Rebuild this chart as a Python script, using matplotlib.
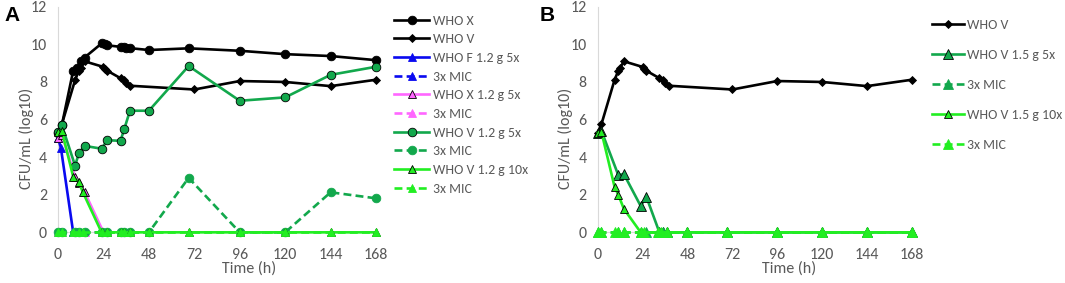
import matplotlib
matplotlib.use("Agg")
from matplotlib import pyplot as plt
from matplotlib import font_manager

names = {f.name for f in font_manager.fontManager.ttflist}
base = "Carlito" if "Carlito" in names else "Lato"
plt.rcParams['font.family'] = [base, 'DejaVu Sans']

#########################################
# panel A data
tx = [0, 2, 8, 10, 12, 14, 23, 25, 26, 33, 35, 36, 38, 48, 69, 96, 120, 144, 168]
who_x = [5.3, 5.7, 8.6, 8.75, 9.1, 9.3, 10.05, 10.0, 9.95, 9.87, 9.85, 9.82, 9.8, 9.7, 9.79, 9.66, 9.48, 9.38, 9.16]

tv = [0, 2, 9, 11, 12, 14, 24, 25, 26, 33, 35, 36, 38, 72, 96, 120, 144, 168]
who_v = [5.3, 5.75, 8.1, 8.6, 8.75, 9.1, 8.8, 8.7, 8.6, 8.2, 8.1, 7.95, 7.8, 7.6, 8.05, 8.0, 7.78, 8.12]

tf = [0, 1.5, 8]
f_5x = [5.0, 4.5, 0]
f_mic = [0, 0, 0]

tp = [0, 2, 9, 11, 14, 24]
x_5x = [5.0, 5.2, 2.95, 2.65, 2.15, 0]
x_mic = [0, 0, 0, 0, 0, 0]

t5 = [0, 2, 9, 11, 14, 23, 26, 33, 35, 38, 48, 69, 96, 120, 144, 168]
v12_5x = [5.35, 5.7, 3.55, 4.2, 4.6, 4.45, 4.9, 4.87, 5.5, 6.47, 6.47, 8.85, 7.0, 7.18, 8.38, 8.81]
v12_5x_mic = [0, 0, 0, 0, 0, 0, 0, 0, 0, 0, 0, 2.9, 0, 0, 2.13, 1.81]

t10 = [0, 2, 8, 11, 13, 23, 26, 33, 35, 38, 48, 69, 96, 120, 144, 168]
v12_10x = [5.35, 5.4, 2.96, 2.66, 2.16, 0, 0, 0, 0, 0, 0, 0, 0, 0, 0, 0]
v12_10x_mic = [0] * 16

# panel B data
tb5 = [0, 2, 11, 14, 23, 26, 33, 35, 37, 48, 69, 96, 120, 144, 168]
v15_5x = [5.3, 5.4, 3.05, 3.1, 1.4, 1.9, 0, 0, 0, 0, 0, 0, 0, 0, 0]
v15_5x_mic = [0] * 15

tb10 = [0, 2, 9, 11, 14, 23, 25, 32, 34, 37, 48, 69, 96, 120, 144, 168]
v15_10x = [5.3, 5.35, 2.43, 2.0, 1.25, 0, 0, 0, 0, 0, 0, 0, 0, 0, 0, 0]
v15_10x_mic = [0] * 16

#########################################
BLUE = "#0A0AF0"
PINK = "#FF66FF"
MID = "#12A84C"
LIME = "#22EE22"
GREY = "#595959"
LW = 1.9


def style(ax):
    ax.set_xlim(0, 168)
    ax.set_ylim(0, 12)
    ax.set_xticks(range(0, 169, 24))
    ax.set_yticks(range(0, 13, 2))
    ax.tick_params(length=0, labelsize=11.5, labelcolor=GREY)
    ax.tick_params(axis='x', pad=11)
    ax.tick_params(axis='y', pad=8)
    for s in ["top", "right"]:
        ax.spines[s].set_visible(False)
    for s in ["left", "bottom"]:
        ax.spines[s].set_color("#D9D9D9")
        ax.spines[s].set_zorder(1)
    ax.set_xlabel("Time (h)", fontsize=11.5, color=GREY)
    ax.set_ylabel("CFU/mL (log10)", fontsize=11.5, color=GREY)


def line(ax, t, y, color, marker, ms, ls="-", mec="k", label=None):
    ax.plot(t, y, ls, color=color, lw=LW, marker=marker, ms=ms, mfc=color,
            mec=mec, mew=0.6, label=label, clip_on=False, zorder=3,
            dashes=(3, 1.6) if ls == "--" else (None, None))


fig = plt.figure(figsize=(10.65, 2.83), dpi=100)
axA = fig.add_axes([0.0545, 0.179, 0.2986, 0.797])
axB = fig.add_axes([0.5612, 0.179, 0.2951, 0.797])

# ---- A
line(axA, tx, who_x, "k", "o", 6.2, label="WHO X")
line(axA, tv, who_v, "k", "D", 4.2, label="WHO V")
line(axA, tf, f_5x, BLUE, "^", 6, mec=BLUE, label="WHO F 1.2 g 5x")
line(axA, tf, f_mic, BLUE, "^", 6, "--", mec=BLUE, label="3x MIC")
line(axA, tp, x_5x, PINK, "^", 6, label="WHO X 1.2 g 5x")
line(axA, tp, x_mic, PINK, "^", 6, "--", mec=PINK, label="3x MIC")
line(axA, t5, v12_5x, MID, "o", 6.2, label="WHO V 1.2 g 5x")
line(axA, t5, v12_5x_mic, MID, "o", 6.2, "--", mec=MID, label="3x MIC")
line(axA, t10, v12_10x, LIME, "^", 6, label="WHO V 1.2 g 10x")
line(axA, t10, v12_10x_mic, LIME, "^", 6, "--", mec=LIME, label="3x MIC")
style(axA)
axA.xaxis.set_label_coords(0.60, -0.13)
axA.yaxis.set_label_coords(-0.075, 0.416)
axA.legend(loc="upper left", bbox_to_anchor=(1.04, 0.99), frameon=False,
           fontsize=10, labelcolor=GREY, handlelength=2.5, handletextpad=0.3,
           labelspacing=0.48, borderaxespad=0)

# ---- B
line(axB, tv, who_v, "k", "D", 4.2, label="WHO V")
line(axB, tb5, v15_5x, MID, "^", 7, label="WHO V 1.5 g 5x")
line(axB, tb5, v15_5x_mic, MID, "^", 7, "--", mec=MID, label="3x MIC")
line(axB, tb10, v15_10x, LIME, "^", 5.5, label="WHO V 1.5 g 10x")
line(axB, tb10, v15_10x_mic, LIME, "^", 7, "--", mec=LIME, label="3x MIC")
style(axB)
axB.xaxis.set_label_coords(0.61, -0.13)
axB.yaxis.set_label_coords(-0.08, 0.416)
axB.legend(loc="upper left", bbox_to_anchor=(1.045, 0.97), frameon=False,
           fontsize=10, labelcolor=GREY, handlelength=2.3, handletextpad=0.25,
           labelspacing=1.3, borderaxespad=0)

fig.text(0.004, 0.925, "A", fontsize=15, fontweight="bold", family="Liberation Sans")
fig.text(0.507, 0.925, "B", fontsize=15, fontweight="bold", family="Liberation Sans")

fig.savefig("out.png", dpi=100)
